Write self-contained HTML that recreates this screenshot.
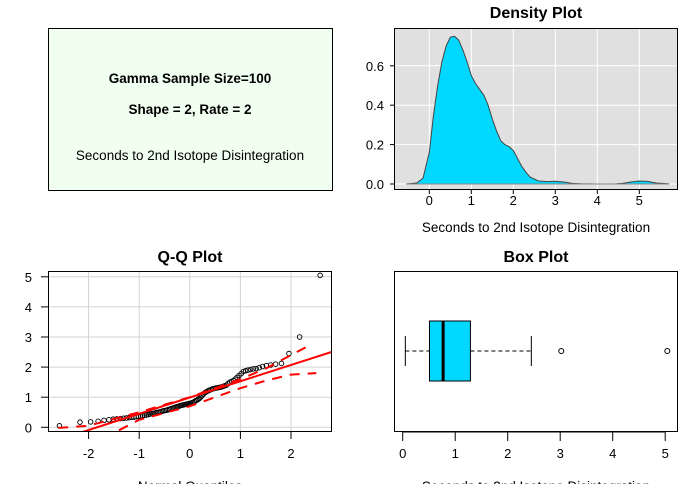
<!DOCTYPE html>
<html><head><meta charset="utf-8"><style>
body{margin:0;background:#fff;width:692px;height:484px;overflow:hidden}
svg{display:block;font-family:"Liberation Sans",Arial,sans-serif}
</style></head><body>
<svg id="s" width="692" height="484" viewBox="0 0 692 484" xmlns="http://www.w3.org/2000/svg">
<g>
<rect x="48.5" y="28.5" width="284" height="162" fill="#f0fff0" stroke="#000"/>
<text x="190" y="83" text-anchor="middle" font-size="13.5" font-weight="bold">Gamma Sample Size=100</text>
<text x="190" y="114" text-anchor="middle" font-size="13.5" font-weight="bold">Shape = 2, Rate = 2</text>
<text x="190" y="160" text-anchor="middle" font-size="13.5">Seconds to 2nd Isotope Disintegration</text>
</g>
<g id="dens"></g>
<g id="qq"></g>
<g id="box"></g>
</svg>
<script>
const densX=[-0.55,-0.3,-0.15,0,0.1,0.2,0.3,0.4,0.5,0.6,0.7,0.8,0.9,1.0,1.1,1.2,1.3,1.4,1.5,1.6,1.7,1.8,1.9,2.0,2.1,2.2,2.3,2.4,2.6,2.8,3.0,3.2,3.4,3.6,4.0,4.4,4.6,4.8,5.0,5.2,5.4,5.7];
const densY=[0,0.005,0.03,0.16,0.35,0.5,0.62,0.7,0.745,0.75,0.73,0.68,0.62,0.55,0.51,0.48,0.45,0.4,0.33,0.27,0.22,0.2,0.19,0.17,0.13,0.09,0.06,0.035,0.015,0.012,0.014,0.01,0.003,0.001,0,0,0.003,0.01,0.015,0.013,0.005,0.001];
const densXTicks=[0,1,2,3,4,5];
const densYTicks=["0.0","0.2","0.4","0.6"];
const sample=[0.05,0.17,0.18,0.20,0.23,0.25,0.27,0.28,0.29,0.30,0.31,0.32,0.33,0.34,0.35,0.36,0.37,0.38,0.40,0.41,0.42,0.44,0.45,0.46,0.47,0.49,0.50,0.51,0.52,0.54,0.55,0.56,0.57,0.59,0.60,0.62,0.63,0.65,0.66,0.68,0.69,0.70,0.72,0.73,0.74,0.75,0.76,0.77,0.78,0.79,0.80,0.81,0.83,0.85,0.88,0.90,0.93,0.96,1.00,1.05,1.10,1.14,1.17,1.20,1.22,1.24,1.26,1.28,1.29,1.30,1.31,1.32,1.33,1.34,1.36,1.38,1.40,1.45,1.50,1.52,1.55,1.60,1.66,1.72,1.78,1.85,1.88,1.90,1.92,1.94,1.95,1.98,2.02,2.05,2.07,2.10,2.12,2.45,3.00,5.05];
const qqLine=[0.99,0.54];
const bandUpX=[-2.6,-2,-1.5,-1,0,0.5,1,1.5,2,2.4];
const bandUpY=[-0.02,0.05,0.28,0.5,1.0,1.3,1.6,1.95,2.4,2.75];
const bandLoX=[-1.4,-1,0,1,1.5,2,2.5];
const bandLoY=[-0.1,0.25,0.7,1.3,1.55,1.75,1.8];
const qqXTicks=[-2,-1,0,1,2];
const qqYTicks=[0,1,2,3,4,5];
const boxStats=[0.05,0.51,0.77,1.29,2.45];
const boxOut=[3.02,5.04];
const boxTicks=[0,1,2,3,4,5];
const NS="http://www.w3.org/2000/svg";
function mk(p,t,a){const e=document.createElementNS(NS,t);for(const k in a)e.setAttribute(k,a[k]);p.appendChild(e);return e;}
function txt(p,x,y,s,o){const e=mk(p,'text',Object.assign({x:x,y:y,'font-size':13,'text-anchor':'middle'},o||{}));e.textContent=s;return e;}
function qnorm(p){const a=[-39.6968302866538,220.946098424521,-275.928510446969,138.357751867269,-30.6647980661472,2.50662827745924],b=[-54.4760987982241,161.585836858041,-155.698979859887,66.8013118877197,-13.2806815528857],c=[-0.00778489400243029,-0.322396458041136,-2.40075827716184,-2.54973253934373,4.37466414146497,2.93816398269878],d=[0.00778469570904146,0.32246712907004,2.445134137143,3.75440866190742];let q,r;if(p<0.02425){q=Math.sqrt(-2*Math.log(p));return(((((c[0]*q+c[1])*q+c[2])*q+c[3])*q+c[4])*q+c[5])/((((d[0]*q+d[1])*q+d[2])*q+d[3])*q+1);}if(p>1-0.02425){return -qnorm(1-p);}q=p-0.5;r=q*q;return(((((a[0]*r+a[1])*r+a[2])*r+a[3])*r+a[4])*r+a[5])*q/(((((b[0]*r+b[1])*r+b[2])*r+b[3])*r+b[4])*r+1);}
// Density
(function(){const g=document.getElementById('dens');
const L=394,R=678,T=28,B=190;const sx=v=>429.3+v*42,sy=v=>184-v*197;
mk(g,'rect',{x:L,y:T,width:R-L,height:B-T,fill:'#e0e0e0'});
densXTicks.forEach(t=>{const l=mk(g,'line',{x1:sx(t),x2:sx(t),y1:T,y2:B,stroke:'#fff'});});
densYTicks.forEach(t=>{const l=mk(g,'line',{x1:L,x2:R,y1:sy(+t),y2:sy(+t),stroke:'#fff'});});
let d='M'+sx(densX[0])+','+sy(0);densX.forEach((x,i)=>d+=' L'+sx(x).toFixed(1)+','+sy(densY[i]).toFixed(1));d+=' L'+sx(densX[densX.length-1])+','+sy(0)+'Z';
const a=mk(g,'path',{d:d,fill:'#00d8ff',stroke:'#444','stroke-width':1});
mk(g,'line',{x1:sx(densX[0]),x2:sx(densX[densX.length-1]),y1:sy(0),y2:sy(0),stroke:'#888'});
mk(g,'rect',{x:L+0.5,y:T+0.5,width:R-L-1,height:B-T-1,fill:'none',stroke:'#000'});
densXTicks.forEach(t=>{mk(g,'line',{x1:sx(t),x2:sx(t),y1:B,y2:B+4,stroke:'#000'});const e=txt(g,sx(t),B+15,String(t));});
densYTicks.forEach(t=>{mk(g,'line',{x1:L-4,x2:L,y1:sy(+t),y2:sy(+t),stroke:'#000'});const e=txt(g,L-10,sy(+t)+5,t,{'text-anchor':'end'});});
const ti=txt(g,536,18,'Density Plot',{'font-size':16,'font-weight':'bold'});
const xl=txt(g,536,232,'Seconds to 2nd Isotope Disintegration',{'font-size':13.5});
})();
// QQ
(function(){const g=document.getElementById('qq');
const L=48,R=332,T=271,B=432;const sx=v=>189.8+v*50.6,sy=v=>427.3-v*30.1;
const cp=mk(g,'clipPath',{id:'qc'});mk(cp,'rect',{x:L,y:T,width:R-L,height:B-T});
qqXTicks.forEach(t=>mk(g,'line',{x1:sx(t),x2:sx(t),y1:T,y2:B,stroke:'#d3d3d3'}));
qqYTicks.forEach(t=>mk(g,'line',{x1:L,x2:R,y1:sy(t),y2:sy(t),stroke:'#d3d3d3'}));
const cg=mk(g,'g',{'clip-path':'url(#qc)'});
const n=sample.length;
sample.forEach((v,i)=>{const q=qnorm((i+1-0.5)/n);const c=mk(cg,'circle',{cx:sx(q),cy:sy(v),r:2.3,fill:'none',stroke:'#000','stroke-width':0.9});});
const ln=mk(cg,'line',{x1:sx(-3),y1:sy(qqLine[0]-3*qqLine[1]),x2:sx(3),y2:sy(qqLine[0]+3*qqLine[1]),stroke:'#f00','stroke-width':2});
[[bandUpX,bandUpY,'qq-upper-band'],[bandLoX,bandLoY,'qq-lower-band']].forEach(([X,Y,nm])=>{const p=mk(cg,'polyline',{points:X.map((x,i)=>sx(x)+','+sy(Y[i])).join(' '),fill:'none',stroke:'#f00','stroke-width':2,'stroke-dasharray':'10,8'});});
mk(g,'rect',{x:L+0.5,y:T+0.5,width:R-L-1,height:B-T-1,fill:'none',stroke:'#000'});
qqXTicks.forEach(t=>{mk(g,'line',{x1:sx(t),x2:sx(t),y1:B,y2:B+7,stroke:'#000'});const e=txt(g,sx(t),B+26,String(t));});
qqYTicks.forEach(t=>{mk(g,'line',{x1:L-7,x2:L,y1:sy(t),y2:sy(t),stroke:'#000'});const e=txt(g,32,sy(t)+5,String(t),{'text-anchor':'end'});});
const ti=txt(g,190,262,'Q-Q Plot',{'font-size':16,'font-weight':'bold'});
const xl=txt(g,190,491,'Normal Quantiles',{'font-size':13.5});
const yl=txt(g,-4,350,'Sample Quantiles',{transform:'rotate(-90 -4 350)','font-size':13.5});
})();
// Box
(function(){const g=document.getElementById('box');
const L=394,R=678,T=271,B=432;const sx=v=>402.7+v*52.5;const cy=351;
mk(g,'rect',{x:L+0.5,y:T+0.5,width:R-L-1,height:B-T-1,fill:'none',stroke:'#000'});
const w=mk(g,'line',{x1:sx(boxStats[0]),x2:sx(boxStats[1]),y1:cy,y2:cy,stroke:'#000','stroke-dasharray':'4,3'});
const w2=mk(g,'line',{x1:sx(boxStats[3]),x2:sx(boxStats[4]),y1:cy,y2:cy,stroke:'#000','stroke-dasharray':'4,3'});
[boxStats[0],boxStats[4]].forEach(v=>{const c=mk(g,'line',{x1:sx(v),x2:sx(v),y1:cy-15,y2:cy+15,stroke:'#000'});});
const bx=mk(g,'rect',{x:sx(boxStats[1]),y:321,width:sx(boxStats[3])-sx(boxStats[1]),height:60,fill:'#00d8ff',stroke:'#000'});
const md=mk(g,'line',{x1:sx(boxStats[2]),x2:sx(boxStats[2]),y1:321,y2:381,stroke:'#000','stroke-width':3});
boxOut.forEach(v=>{const c=mk(g,'circle',{cx:sx(v),cy:cy,r:2.5,fill:'none',stroke:'#000'});});
mk(g,'line',{x1:sx(boxTicks[0]),x2:sx(boxTicks[boxTicks.length-1]),y1:B,y2:B,stroke:'#000'});
boxTicks.forEach(t=>{mk(g,'line',{x1:sx(t),x2:sx(t),y1:B,y2:B+9,stroke:'#000'});const e=txt(g,sx(t),B+26,String(t));});
const ti=txt(g,536,262,'Box Plot',{'font-size':16,'font-weight':'bold'});
const xl=txt(g,536,491,'Seconds to 2nd Isotope Disintegration',{'font-size':13.5});
})();
</script>
</body></html>
